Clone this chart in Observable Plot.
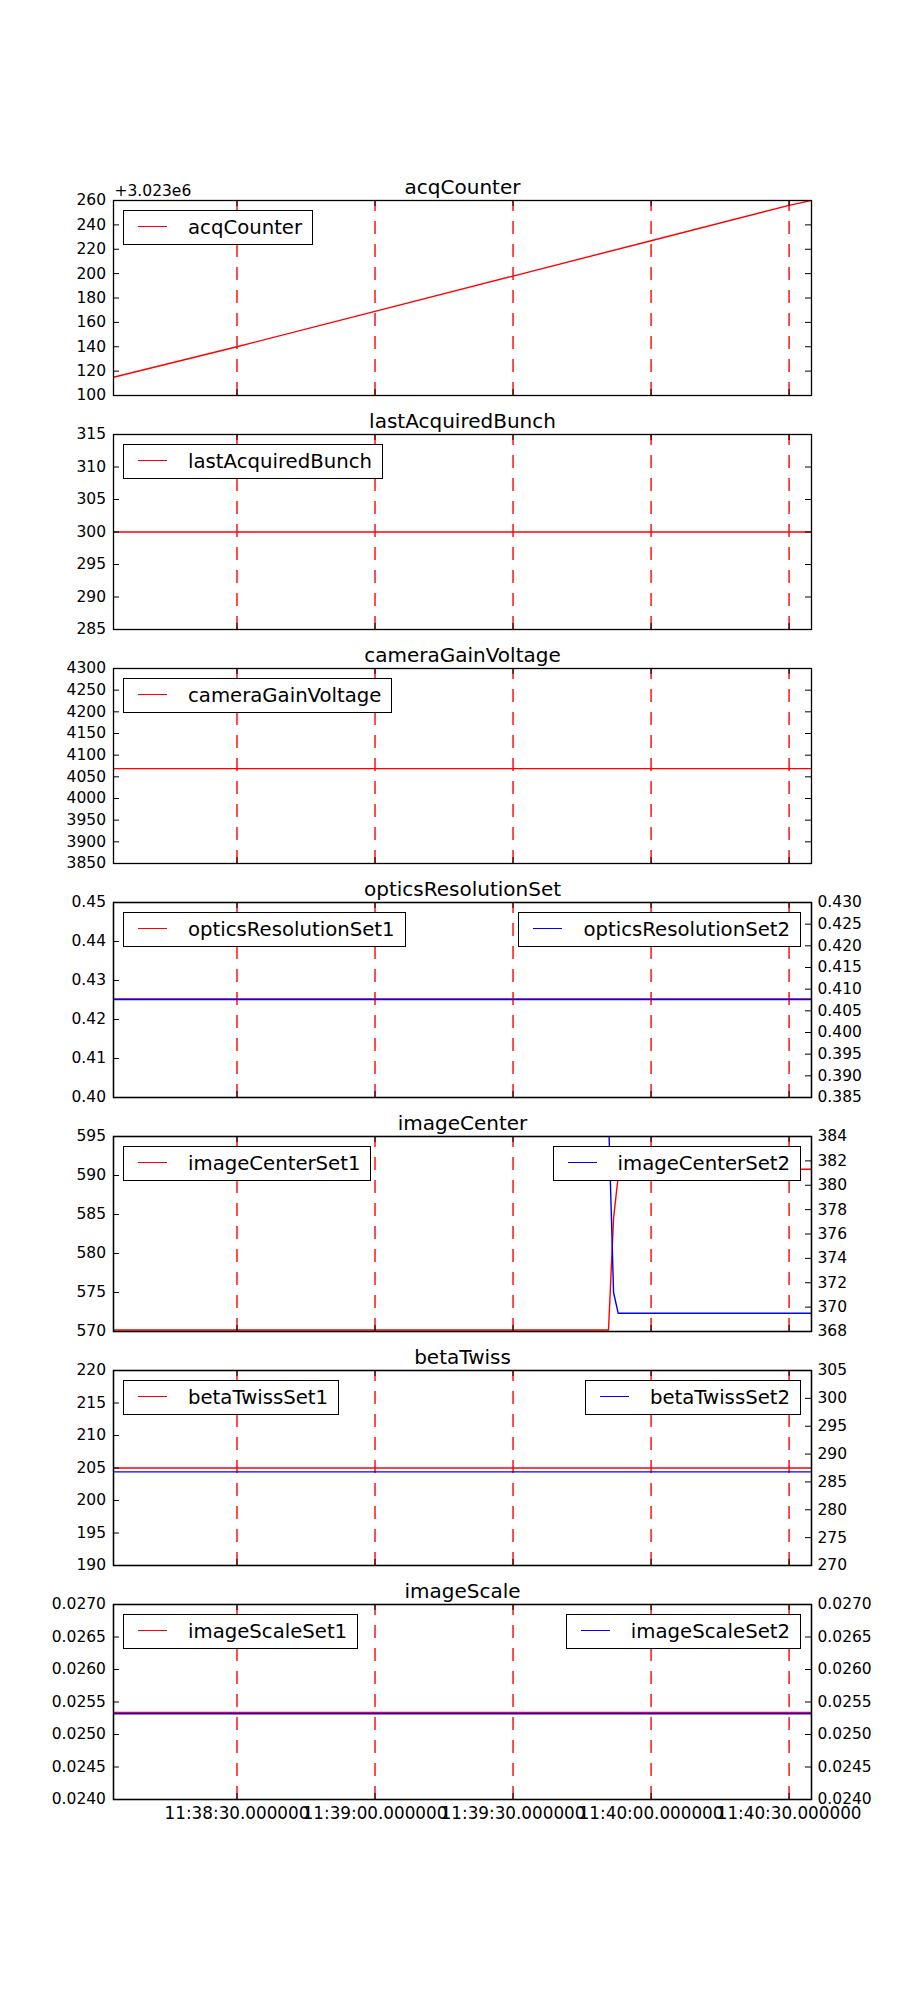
<!DOCTYPE html>
<html><head><meta charset="utf-8">
<script src="https://cdn.jsdelivr.net/npm/d3@7"></script>
<script src="https://cdn.jsdelivr.net/npm/@observablehq/plot@0.6"></script>
<style>
body{margin:0;background:#fff;}
#root{padding-top:161px;width:900px;}
.panel{position:relative;width:900px;}
.panel svg{display:block;}
.twin{position:absolute;left:0;top:0;}
.legend{position:absolute;top:49px;height:35px;box-sizing:border-box;border:1px solid #000;background:#fff;display:flex;align-items:center;padding:0 10px 0 14px;font:19.7px "DejaVu Sans",sans-serif;color:#000;white-space:nowrap;}
.legend .swatch{width:29px;height:0;border-top:1.4px solid;margin-right:21px;margin-top:-3px;}
</style></head><body><div id="root"></div><script>
// ---------- data ----------
const day = "2017-01-01T";
const tStart = "11:38:03.160", tEnd = "11:40:34.870";
const xTickTimes = ["11:38:30.000", "11:39:00.000", "11:39:30.000", "11:40:00.000", "11:40:30.000"];

const titles = ["acqCounter", "lastAcquiredBunch", "cameraGainVoltage", "opticsResolutionSet", "imageCenter", "betaTwiss", "imageScale"];

const acqCounterTimes = [tStart, "11:38:30.000", "11:39:00.000", "11:39:30.000", "11:40:00.000", "11:40:30.000", tEnd];
const acqCounterValues = [3023115, 3023140, 3023169, 3023198, 3023227, 3023256, 3023260];

const flatTimes = [tStart, tEnd];
const lastAcquiredBunchValues = [300, 300];
const cameraGainVoltageValues = [4069, 4069];
const opticsResolutionSet1Values = [0.4253, 0.4253];
const opticsResolutionSet2Values = [0.4076, 0.4076];
const betaTwissSet1Values = [205.0, 205.0];
const betaTwissSet2Values = [286.8, 286.8];
const imageScaleSet1Values = [0.02534, 0.02534];
const imageScaleSet2Values = [0.02532, 0.02532];

const imageCenterSet1Times = [tStart, "11:39:50.750", "11:39:51.850", "11:39:52.850", "11:39:53.850", tEnd];
const imageCenterSet1Values = [570.2, 570.2, 584.5, 589.9, 590.8, 590.8];
const imageCenterSet2Times = [tStart, "11:39:50.750", "11:39:51.850", "11:39:52.850", tEnd];
const imageCenterSet2Values = [385.7, 385.7, 371.2, 369.5, 369.5];

// tick values
const acqTicks = [3023100, 3023120, 3023140, 3023160, 3023180, 3023200, 3023220, 3023240, 3023260];
const bunchTicks = [285, 290, 295, 300, 305, 310, 315];
const gainTicks = [3850, 3900, 3950, 4000, 4050, 4100, 4150, 4200, 4250, 4300];
const opticsTicks1 = [0.40, 0.41, 0.42, 0.43, 0.44, 0.45];
const opticsTicks2 = [0.385, 0.390, 0.395, 0.400, 0.405, 0.410, 0.415, 0.420, 0.425, 0.430];
const centerTicks1 = [570, 575, 580, 585, 590, 595];
const centerTicks2 = [368, 370, 372, 374, 376, 378, 380, 382, 384];
const betaTicks1 = [190, 195, 200, 205, 210, 215, 220];
const betaTicks2 = [270, 275, 280, 285, 290, 295, 300, 305];
const scaleTicks = [0.0240, 0.0245, 0.0250, 0.0255, 0.0260, 0.0265, 0.0270];

// ---------- helpers ----------
const T = s => new Date(day + s + "Z");
const rows = (times, values) => times.map((t, i) => ({t: T(t), v: values[i]}));
const W = 900, ML = 113, MR = 89, MT = 39, FH = 195, FW = W - ML - MR;
const font = "DejaVu Sans";
const xDomain = [T(tStart), T(tEnd)];
const xTicks = xTickTimes.map(T);
const ext = a => [a[0], a[a.length - 1]];

function yTickMarks(ticks, side) {
  return Plot.tickY(ticks, {y: d => d, stroke: "black", strokeWidth: 1,
    insetLeft: side === "right" ? FW - 6 : 0, insetRight: side === "left" ? FW - 6 : 0});
}
function xTickMarks() {
  return [
    Plot.tickX(xTicks, {x: d => d, stroke: "black", strokeWidth: 1, insetBottom: FH - 6}),
    Plot.tickX(xTicks, {x: d => d, stroke: "black", strokeWidth: 1, insetTop: FH - 6})
  ];
}
const baseStyle = {fontFamily: font, fontSize: "15.5px", color: "black", background: "transparent", overflow: "visible"};

function makePanel(p) {
  const last = !!p.last;
  const MB = last ? 60 : 0;
  const H = MT + FH + MB;
  const div = document.createElement("div");
  div.className = "panel";
  div.style.height = H + "px";
  const yd = ext(p.ticks1);
  const marks = [
    Plot.ruleX(xTicks, {x: d => d, y1: yd[0], y2: yd[1], stroke: "red", strokeWidth: 1.4, strokeDasharray: "13,10"}),
    Plot.line(p.data1, {x: "t", y: "v", stroke: "red", strokeWidth: 1.4, clip: true}),
    ...xTickMarks(),
    yTickMarks(p.ticks1, "left"),
    ...(p.data2 ? [] : [yTickMarks(p.ticks1, "right")]),
    Plot.axisY({anchor: "left", ticks: p.ticks1, tickFormat: p.fmt1, tickSize: 0, tickPadding: 7.5, fontSize: 15.5, label: null}),
    Plot.frame({stroke: "black", strokeWidth: 1.3}),
    Plot.text([p.title], {frameAnchor: "top", dy: -7, lineAnchor: "bottom", fontSize: 20, text: d => d})
  ];
  if (p.offset) marks.push(Plot.text([p.offset], {frameAnchor: "top-left", textAnchor: "start", dx: 1, dy: -5, lineAnchor: "bottom", fontSize: 15.5, text: d => d}));
  if (last) marks.push(Plot.axisX({anchor: "bottom", ticks: xTicks, tickFormat: d3.utcFormat("%H:%M:%S.%f"), tickSize: 0, tickPadding: 8, fontSize: 16.8, label: null}));
  const chart = Plot.plot({
    width: W, height: H, marginLeft: ML, marginRight: MR, marginTop: MT, marginBottom: MB,
    x: {type: "utc", domain: xDomain, ...(last ? {} : {axis: null})},
    y: {domain: yd},
    style: baseStyle,
    marks
  });
  div.appendChild(chart);
  if (p.data2) {
    const yd2 = ext(p.ticks2);
    const twin = Plot.plot({
      width: W, height: H, marginLeft: ML, marginRight: MR, marginTop: MT, marginBottom: MB,
      x: {type: "utc", domain: xDomain, axis: null},
      y: {domain: yd2},
      style: baseStyle,
      marks: [
        Plot.line(p.data2, {x: "t", y: "v", stroke: "blue", strokeWidth: 1.4, clip: true}),
        yTickMarks(p.ticks2, "right"),
        Plot.axisY({anchor: "right", ticks: p.ticks2, tickFormat: p.fmt2, tickSize: 0, tickPadding: 6, fontSize: 15.5, label: null}),
        Plot.frame({stroke: "black", strokeWidth: 1.3})
      ]
    });
    twin.classList.add("twin");
    div.appendChild(twin);
  }
  const lg = (label, color, side) => {
    const l = document.createElement("div");
    l.className = "legend";
    if (side === "left") l.style.left = (ML + 10) + "px"; else l.style.right = (MR + 10) + "px";
    const s = document.createElement("span"); s.className = "swatch"; s.style.borderTopColor = color;
    const t = document.createElement("span"); t.textContent = label;
    l.appendChild(s); l.appendChild(t);
    div.appendChild(l);
  };
  lg(p.label1, "red", "left");
  if (p.label2) lg(p.label2, "blue", "right");
  document.getElementById("root").appendChild(div);
}

const fInt = d3.format("d");
makePanel({title: titles[0], data1: rows(acqCounterTimes, acqCounterValues), ticks1: acqTicks, fmt1: d => fInt(d - 3023000), offset: "+3.023e6", label1: "acqCounter"});
makePanel({title: titles[1], data1: rows(flatTimes, lastAcquiredBunchValues), ticks1: bunchTicks, fmt1: fInt, label1: "lastAcquiredBunch"});
makePanel({title: titles[2], data1: rows(flatTimes, cameraGainVoltageValues), ticks1: gainTicks, fmt1: fInt, label1: "cameraGainVoltage"});
makePanel({title: titles[3], data1: rows(flatTimes, opticsResolutionSet1Values), ticks1: opticsTicks1, fmt1: d3.format(".2f"), label1: "opticsResolutionSet1",
  data2: rows(flatTimes, opticsResolutionSet2Values), ticks2: opticsTicks2, fmt2: d3.format(".3f"), label2: "opticsResolutionSet2"});
makePanel({title: titles[4], data1: rows(imageCenterSet1Times, imageCenterSet1Values), ticks1: centerTicks1, fmt1: fInt, label1: "imageCenterSet1",
  data2: rows(imageCenterSet2Times, imageCenterSet2Values), ticks2: centerTicks2, fmt2: fInt, label2: "imageCenterSet2"});
makePanel({title: titles[5], data1: rows(flatTimes, betaTwissSet1Values), ticks1: betaTicks1, fmt1: fInt, label1: "betaTwissSet1",
  data2: rows(flatTimes, betaTwissSet2Values), ticks2: betaTicks2, fmt2: fInt, label2: "betaTwissSet2"});
makePanel({title: titles[6], data1: rows(flatTimes, imageScaleSet1Values), ticks1: scaleTicks, fmt1: d3.format(".4f"), label1: "imageScaleSet1",
  data2: rows(flatTimes, imageScaleSet2Values), ticks2: scaleTicks, fmt2: d3.format(".4f"), label2: "imageScaleSet2", last: true});
</script></body></html>
